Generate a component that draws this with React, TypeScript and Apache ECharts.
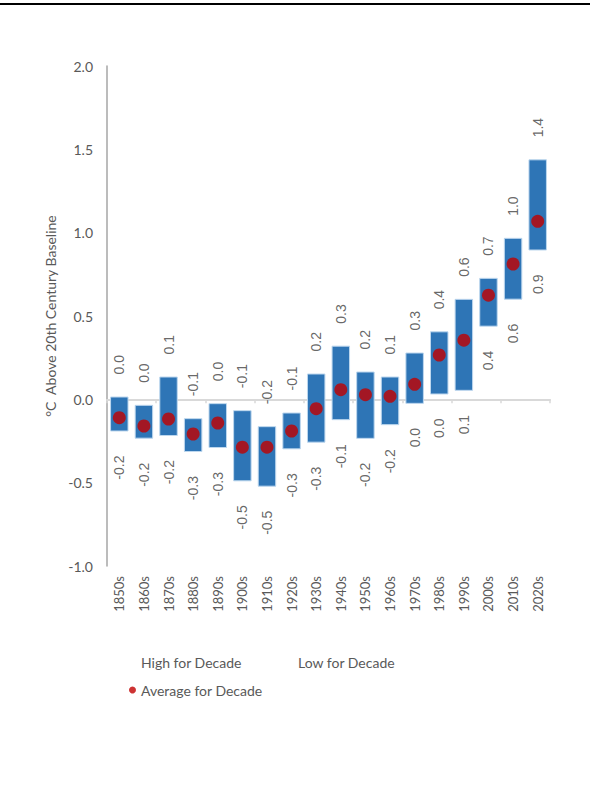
import React, { useEffect, useRef } from "react";
import * as echarts from "echarts";

const decades = ["1850s", "1860s", "1870s", "1880s", "1890s", "1900s", "1910s", "1920s", "1930s", "1940s", "1950s", "1960s", "1970s", "1980s", "1990s", "2000s", "2010s", "2020s"];
const highValues = [0.014, -0.036, 0.134, -0.116, -0.026, -0.068, -0.164, -0.082, 0.152, 0.319, 0.164, 0.134, 0.278, 0.405, 0.6, 0.726, 0.966, 1.437];
const lowValues = [-0.19, -0.233, -0.217, -0.313, -0.289, -0.489, -0.521, -0.297, -0.257, -0.122, -0.234, -0.152, -0.024, 0.032, 0.054, 0.439, 0.601, 0.896];
const avgValues = [-0.11, -0.16, -0.118, -0.208, -0.142, -0.287, -0.287, -0.19, -0.056, 0.058, 0.028, 0.018, 0.09, 0.266, 0.355, 0.625, 0.812, 1.068];
const yTicks = { min: -1, max: 2, interval: 0.5 };

const fmt = (v: number) => {
  const s = Number(v).toFixed(1);
  return s === "-0.0" ? "0.0" : s;
};

export default function App() {
  const ref = useRef<HTMLDivElement>(null);
  useEffect(() => {
    document.body.style.margin = "0";
    const chart = echarts.init(ref.current!, null, { renderer: "svg" });
    const labelFont = "Liberation Sans, Arial, sans-serif";
    const axisFont = "Lato, Carlito, sans-serif";
    const legendText = { fontSize: 14, color: "#595959", fontFamily: axisFont };
    chart.setOption({
      animation: false,
      backgroundColor: "#ffffff",
      graphic: [
        { type: "rect", left: 0, top: 3, shape: { width: 590, height: 2 }, style: { fill: "#000000" } },
      ],
      grid: { left: 107, right: 40, top: 66, bottom: 228, containLabel: false },
      legend: [
        {
          data: [{ name: "High for Decade" }],
          left: 123, top: 650, icon: "rect", itemWidth: 8, itemHeight: 8, selectedMode: false,
          textStyle: legendText,
        },
        {
          data: [{ name: "Low for Decade" }],
          left: 280, top: 650, icon: "rect", itemWidth: 8, itemHeight: 8, selectedMode: false,
          textStyle: legendText,
        },
        {
          data: [{ name: "Average for Decade" }],
          left: 124, top: 678, icon: "circle", itemWidth: 7, itemHeight: 7, selectedMode: false,
          textStyle: legendText,
        },
      ],
      xAxis: [
        {
          type: "category",
          data: decades,
          boundaryGap: true,
          axisLine: { show: true, onZero: true, lineStyle: { color: "#D9D9D9", width: 2 } },
          axisTick: { show: true, length: 4, alignWithLabel: false, lineStyle: { color: "#D9D9D9", width: 1.5 } },
          axisLabel: { show: false },
          splitLine: { show: false },
        },
        {
          type: "category",
          data: decades,
          position: "bottom",
          boundaryGap: true,
          axisLine: { show: false, onZero: false },
          axisTick: { show: false },
          axisLabel: { show: true, rotate: 90, margin: 10, fontSize: 13, color: "#595959", fontFamily: axisFont },
          splitLine: { show: false },
        },
      ],
      yAxis: {
        type: "value",
        min: yTicks.min,
        max: yTicks.max,
        interval: yTicks.interval,
        name: "°C  Above 20th Century Baseline",
        nameLocation: "middle",
        nameGap: 50,
        nameTextStyle: { fontSize: 14, color: "#595959", fontFamily: axisFont },
        axisLine: { show: true, lineStyle: { color: "#A6A6A6", width: 1.5 } },
        axisTick: { show: false },
        axisLabel: { fontSize: 14, color: "#595959", margin: 14, fontFamily: axisFont, formatter: (v: number) => fmt(v) },
        splitLine: { show: false },
      },
      series: [
        {
          type: "custom",
          name: "Range",
          xAxisIndex: 0,
          data: decades.map((d, i) => [i, lowValues[i], highValues[i]]),
          renderItem: (params: any, api: any) => {
            const x = api.value(0);
            const lo = api.value(1);
            const hi = api.value(2);
            const pTop = api.coord([x, hi]);
            const pBot = api.coord([x, lo]);
            const w = api.size([1, 0])[0] * 0.71;
            return {
              type: "rect",
              shape: { x: pTop[0] - w / 2, y: pTop[1], width: w, height: pBot[1] - pTop[1] },
              style: { fill: "#2E75B6", stroke: "#BDD7EE", lineWidth: 1 },
            };
          },
          z: 2,
        },
        {
          type: "scatter",
          name: "High for Decade",
          xAxisIndex: 0,
          data: highValues,
          symbolSize: 1,
          itemStyle: { color: "rgba(0,0,0,0)" },
          label: {
            show: true, position: "top", distance: 22, rotate: 90, align: "left", verticalAlign: "middle",
            formatter: (p: any) => fmt(p.value), fontSize: 14, color: "#404040", fontFamily: labelFont,
          },
          z: 3,
        },
        {
          type: "scatter",
          name: "Low for Decade",
          xAxisIndex: 0,
          data: lowValues,
          symbolSize: 1,
          itemStyle: { color: "rgba(0,0,0,0)" },
          label: {
            show: true, position: "bottom", distance: 24, rotate: 90, align: "right", verticalAlign: "middle",
            formatter: (p: any) => fmt(p.value), fontSize: 14, color: "#404040", fontFamily: labelFont,
          },
          z: 3,
        },
        {
          type: "scatter",
          name: "Average for Decade",
          xAxisIndex: 0,
          data: avgValues,
          symbol: "circle",
          symbolSize: 13,
          itemStyle: { color: "#C00000" },
          z: 4,
        },
      ],
    });
    return () => chart.dispose();
  }, []);
  return <div ref={ref} style={{ width: 590, height: 794 }} />;
}
